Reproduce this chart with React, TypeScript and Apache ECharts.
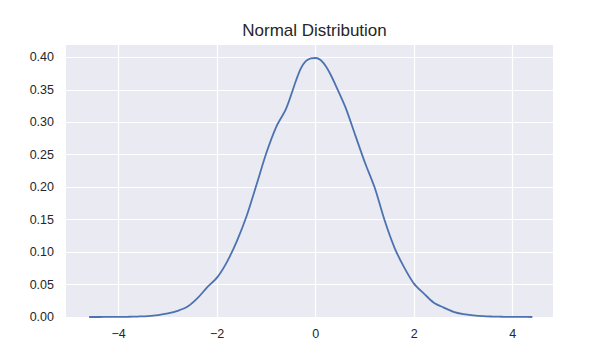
import React, { useEffect, useRef } from "react";
import * as echarts from "echarts";

const title = "Normal Distribution";
const xValues = [
  -4.6, -4.4, -4.2, -4.0, -3.8, -3.6, -3.4, -3.2, -3.0, -2.8, -2.6, -2.4, -2.2, -2.0,
  -1.8, -1.6, -1.4, -1.2, -1.0, -0.8, -0.6, -0.4, -0.3, -0.2, -0.1, 0.0, 0.1, 0.2, 0.3,
  0.4, 0.6, 0.8, 1.0, 1.2, 1.4, 1.6, 1.8, 2.0, 2.2, 2.4, 2.6, 2.8, 3.0, 3.2, 3.4, 3.6,
  3.8, 4.0, 4.2, 4.4,
];
const densityValues = [
  0.0, 0.0, 0.0001, 0.0002, 0.0004, 0.0008, 0.0015, 0.003, 0.0055, 0.0095, 0.016, 0.029,
  0.046, 0.061, 0.085, 0.117, 0.156, 0.204, 0.253, 0.293, 0.321, 0.364, 0.383, 0.394,
  0.3985, 0.399, 0.396, 0.387, 0.374, 0.358, 0.324, 0.281, 0.238, 0.199, 0.149, 0.107,
  0.076, 0.051, 0.036, 0.022, 0.0145, 0.008, 0.0045, 0.0025, 0.0012, 0.0007, 0.0004,
  0.0002, 0.0001, 0.0,
];
const xTicks = [-4, -2, 0, 2, 4];
const xMin = -5.07;
const xMax = 4.82;
const yMin = 0;
const yMax = 0.419;
const yInterval = 0.05;

export default function App() {
  const ref = useRef<HTMLDivElement>(null);
  useEffect(() => {
    if (!ref.current) return;
    const chart = echarts.init(ref.current, undefined, { renderer: "svg" });
    const font = "'Liberation Sans', Arial, sans-serif";
    chart.setOption({
      animation: false,
      backgroundColor: "#ffffff",
      title: {
        text: title,
        left: 309.5,
        textAlign: "center",
        top: 17,
        textStyle: { fontFamily: font, fontSize: 17, fontWeight: "normal", color: "#262626" },
      },
      grid: { left: 66, right: 54, top: 45, bottom: 44, show: true, backgroundColor: "#EAEAF2", borderWidth: 0 },
      xAxis: {
        type: "value",
        min: xMin,
        max: xMax,
        axisLine: { show: false },
        axisTick: { show: false },
        splitLine: { show: false },
        axisLabel: {
          customValues: xTicks,
          fontFamily: font,
          fontSize: 12.5,
          color: "#262626",
          margin: 10,
          formatter: (v: number) => (v < 0 ? "\u2212" + Math.abs(v) : String(v)),
        },
      },
      yAxis: {
        type: "value",
        min: yMin,
        max: yMax,
        interval: yInterval,
        axisLine: { show: false },
        axisTick: { show: false },
        splitLine: { show: true, showMaxLine: false, showMinLine: false, lineStyle: { color: "#ffffff", width: 1.2 } },
        axisLabel: {
          fontFamily: font,
          fontSize: 12.5,
          color: "#262626",
          margin: 12,
          showMaxLabel: false,
          formatter: (v: number) => {
            const r = Math.round(v / yInterval) * yInterval;
            if (Math.abs(r - v) > 1e-6) return "";
            return v.toFixed(2);
          },
        },
      },
      series: [
        {
          type: "line",
          data: xValues.map((x, i) => [x, densityValues[i]]),
          showSymbol: false,
          smooth: 0.3,
          lineStyle: { color: "#4C72B0", width: 1.8 },
          z: 5,
          markLine: {
            silent: true,
            symbol: "none",
            label: { show: false },
            lineStyle: { color: "#ffffff", width: 1.2, type: "solid" },
            data: xTicks.map((t) => ({ xAxis: t })),
            z: 1,
          },
        },
      ],
    });
    return () => chart.dispose();
  }, []);
  return <div ref={ref} style={{ position: "fixed", left: 0, top: 0, width: 607, height: 361 }} />;
}
